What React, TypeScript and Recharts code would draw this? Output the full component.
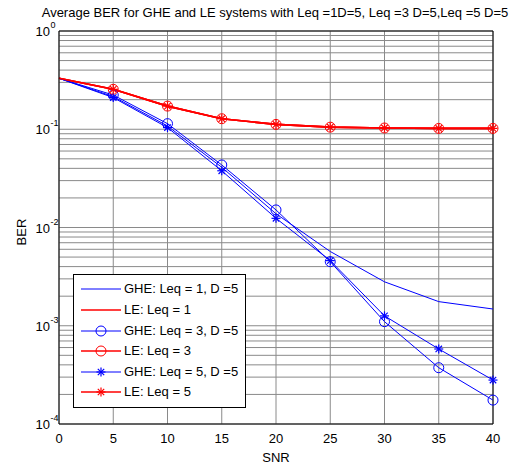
import React from 'react';
import { LineChart, Line, XAxis, YAxis, CartesianGrid, ReferenceLine } from 'recharts';

const snr = [0, 5, 10, 15, 20, 25, 30, 35, 40];
const gheLeq1 = [0.33, 0.215, 0.108, 0.041, 0.0138, 0.0057, 0.0028, 0.00176, 0.00148];
const leLeq1 = [0.33, 0.255, 0.172, 0.128, 0.112, 0.105, 0.103, 0.102, 0.102];
const gheLeq3 = [0.33, 0.223, 0.114, 0.0433, 0.0151, 0.00449, 0.0011, 0.000374, 0.000175];
const leLeq3 = [0.33, 0.255, 0.172, 0.128, 0.112, 0.105, 0.103, 0.102, 0.102];
const gheLeq5 = [0.33, 0.21, 0.104, 0.0378, 0.0124, 0.0046, 0.00126, 0.00058, 0.00028];
const leLeq5 = [0.33, 0.255, 0.172, 0.128, 0.112, 0.105, 0.103, 0.102, 0.102];

const xTicks = [0, 5, 10, 15, 20, 25, 30, 35, 40];
const yTicks = [1e-4, 1e-3, 1e-2, 1e-1, 1];
const yMinorGrid = [
  1e-4, 2e-4, 3e-4, 4e-4, 5e-4, 6e-4, 7e-4, 8e-4, 9e-4,
  1e-3, 2e-3, 3e-3, 4e-3, 5e-3, 6e-3, 7e-3, 8e-3, 9e-3,
  1e-2, 2e-2, 3e-2, 4e-2, 5e-2, 6e-2, 7e-2, 8e-2, 9e-2,
  1e-1, 2e-1, 3e-1, 4e-1, 5e-1, 6e-1, 7e-1, 8e-1, 9e-1, 1,
];

const titleText = 'Average BER for GHE and LE systems with Leq =1D=5, Leq =3 D=5,Leq =5 D=5';
const legendNames = [
  'GHE: Leq = 1, D =5',
  'LE: Leq = 1',
  'GHE: Leq = 3, D =5',
  'LE: Leq = 3',
  'GHE: Leq = 5, D =5',
  'LE: Leq = 5',
];

const BLUE = '#0000ff';
const RED = '#ff0000';
const FONT = '"Liberation Sans", Arial, sans-serif';

const data = snr.map((s, i) => ({
  snr: s,
  g1: gheLeq1[i],
  l1: leLeq1[i],
  g3: gheLeq3[i],
  l3: leLeq3[i],
  g5: gheLeq5[i],
  l5: leLeq5[i],
}));

const seriesDefs = [
  { key: 'g1', color: BLUE, marker: 'none', width: 1 },
  { key: 'l1', color: RED, marker: 'none', width: 1.6 },
  { key: 'g3', color: BLUE, marker: 'circle', width: 1 },
  { key: 'l3', color: RED, marker: 'circle', width: 1.6 },
  { key: 'g5', color: BLUE, marker: 'star', width: 1 },
  { key: 'l5', color: RED, marker: 'star', width: 1.6 },
];

function Marker({ type, cx, cy, color }: { type: string; cx: number; cy: number; color: string }) {
  if (type === 'circle') {
    return <circle cx={cx} cy={cy} r={5} fill="none" stroke={color} strokeWidth={1} />;
  }
  if (type === 'star') {
    const a = 4.5;
    const d = 3.2;
    return (
      <g stroke={color} strokeWidth={1.2}>
        <line x1={cx - a} y1={cy} x2={cx + a} y2={cy} />
        <line x1={cx} y1={cy - a} x2={cx} y2={cy + a} />
        <line x1={cx - d} y1={cy - d} x2={cx + d} y2={cy + d} />
        <line x1={cx - d} y1={cy + d} x2={cx + d} y2={cy - d} />
      </g>
    );
  }
  return null;
}

const makeDot = (type: string, color: string) => (props: any) => {
  const { cx, cy, index } = props;
  if (type === 'none' || cx == null || cy == null || index === 0) return <g key={`d-${index}`} />;
  return (
    <g key={`d-${index}`}>
      <Marker type={type} cx={cx} cy={cy} color={color} />
    </g>
  );
};

const YTick = (props: any) => {
  const { y, payload } = props;
  const exp = Math.round(Math.log10(payload.value));
  const ax = 50;
  return (
    <g>
      <text x={ax} y={y + 5} textAnchor="end" fontSize={13} fontFamily={FONT} fill="#000">10</text>
      <text x={ax + 0.5} y={y - 3} textAnchor="start" fontSize={9} fontFamily={FONT} fill="#000">{exp}</text>
    </g>
  );
};

const XTick = (props: any) => {
  const { x, payload } = props;
  return (
    <text x={x} y={443} textAnchor="middle" fontSize={13} fontFamily={FONT} fill="#000">
      {payload.value}
    </text>
  );
};

const LegendBox = () => (
  <div
    style={{
      position: 'absolute',
      left: 73,
      top: 274,
      width: 173,
      height: 134,
      border: '1px solid #000',
      background: '#fff',
      boxSizing: 'border-box',
      fontFamily: FONT,
      fontSize: 13,
    }}
  >
    {legendNames.map((name, i) => {
      const s = seriesDefs[i];
      return (
        <div
          key={name}
          style={{
            position: 'absolute',
            left: 0,
            top: 15.3 + i * 20.6 - 11,
            height: 20,
            display: 'flex',
            alignItems: 'center',
            whiteSpace: 'nowrap',
          }}
        >
          <svg width={50} height={20} style={{ display: 'block' }}>
            <line x1={7} y1={10} x2={47} y2={10} stroke={s.color} strokeWidth={s.width} />
            <Marker type={s.marker} cx={27} cy={10} color={s.color} />
          </svg>
          <span style={{ color: '#000', lineHeight: '20px' }}>{name}</span>
        </div>
      );
    })}
  </div>
);

export default function App() {
  return (
    <div style={{ position: 'absolute', left: 0, top: 0, width: 515, height: 468, background: '#fff' }}>
      <LineChart width={515} height={468} data={data} margin={{ top: 31, right: 22, bottom: 0, left: 0 }}>
        <CartesianGrid
          stroke="#8a8a8a"
          strokeWidth={1}
          horizontalValues={yMinorGrid}
          verticalValues={xTicks}
        />
        <XAxis
          dataKey="snr"
          type="number"
          domain={[0, 40]}
          ticks={xTicks}
          height={44}
          stroke="#000"
          tickLine={false}
          tick={<XTick />}
          interval={0}
        />
        <YAxis
          scale="log"
          domain={[1e-4, 1]}
          allowDataOverflow
          ticks={yTicks}
          width={59}
          stroke="#000"
          tickLine={false}
          tick={<YTick />}
          interval={0}
        />
        <ReferenceLine y={1} stroke="#000" strokeWidth={1} />
        <ReferenceLine x={40} stroke="#000" strokeWidth={1} />
        {seriesDefs.map((s) => (
          <Line
            key={s.key}
            dataKey={s.key}
            type="linear"
            stroke={s.color}
            strokeWidth={s.width}
            dot={makeDot(s.marker, s.color)}
            activeDot={false}
            isAnimationActive={false}
            legendType="none"
          />
        ))}
      </LineChart>
      <LegendBox />
      <svg
        width={515}
        height={468}
        style={{ position: 'absolute', left: 0, top: 0, pointerEvents: 'none' }}
      >
        <text x={275} y={17} textAnchor="middle" fontSize={13} fontFamily={FONT} fill="#000">
          {titleText}
        </text>
        <text x={276} y={462} textAnchor="middle" fontSize={13} fontFamily={FONT} fill="#000">
          SNR
        </text>
        <text
          x={26}
          y={232}
          textAnchor="middle"
          fontSize={13}
          fontFamily={FONT}
          fill="#000"
          transform="rotate(-90 26 232)"
        >
          BER
        </text>
      </svg>
    </div>
  );
}
